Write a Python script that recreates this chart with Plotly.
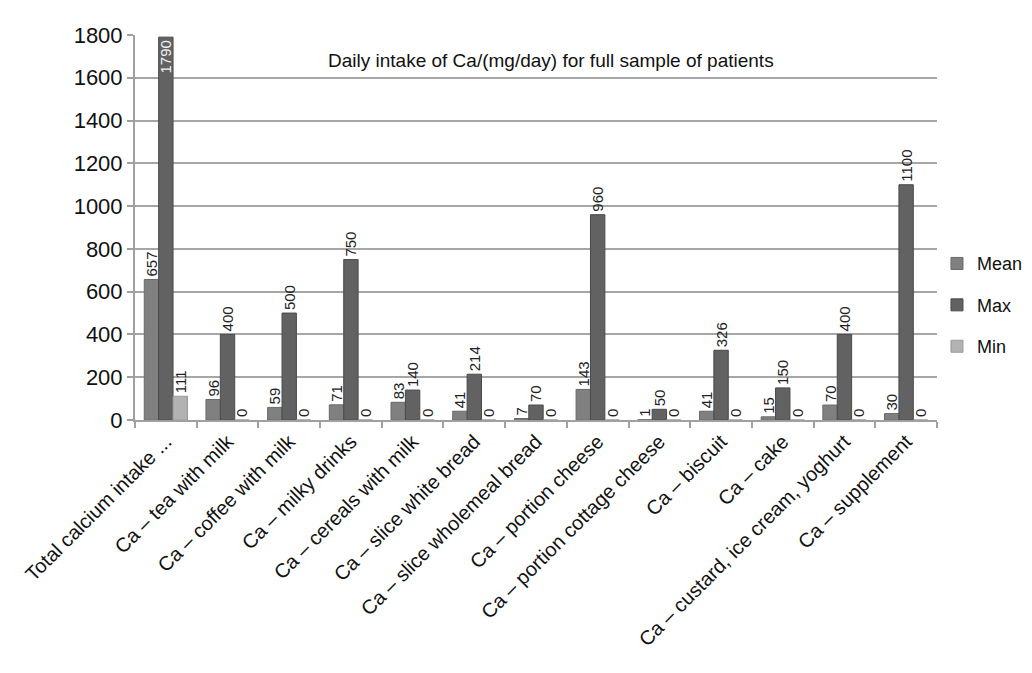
import plotly.graph_objects as go

categories = [
    "Total calcium intake ...",
    "Ca – tea with milk",
    "Ca – coffee with milk",
    "Ca – milky drinks",
    "Ca – cereals with milk",
    "Ca – slice white bread",
    "Ca – slice wholemeal bread",
    "Ca – portion cheese",
    "Ca – portion cottage cheese",
    "Ca – biscuit",
    "Ca – cake",
    "Ca – custard, ice cream, yoghurt",
    "Ca – supplement",
]
mean_vals = [657, 96, 59, 71, 83, 41, 7, 143, 1, 41, 15, 70, 30]
max_vals = [1790, 400, 500, 750, 140, 214, 70, 960, 50, 326, 150, 400, 1100]
min_vals = [111, 0, 0, 0, 0, 0, 0, 0, 0, 0, 0, 0, 0]
y_ticks = [0, 200, 400, 600, 800, 1000, 1200, 1400, 1600, 1800]
title_text = "Daily intake of Ca/(mg/day) for full sample of patients"

font = "Liberation Sans, Arial, sans-serif"
y_max = 1800

fig = go.Figure()
for name, vals, col, edge in [
    ("Mean", mean_vals, "#808080", "#6a6a6a"),
    ("Max", max_vals, "#626262", "#4a4a4a"),
    ("Min", min_vals, "#b2b2b2", "#9a9a9a"),
]:
    # a label that would not fit above the top of the chart goes inside its bar
    positions = ["inside" if v > 0.97 * y_max else "outside" for v in vals]
    fig.add_trace(go.Bar(
        name=name, x=categories, y=vals, legendgroup=name,
        marker=dict(color=col, line=dict(color=edge, width=1)),
        text=[str(v) for v in vals], textposition=positions,
        textangle=-90, constraintext="none", insidetextanchor="end",
        textfont=dict(size=15, color="#222222", family=font),
        insidetextfont=dict(size=15, color="#f2f2f2", family=font),
        outsidetextfont=dict(size=15, color="#222222", family=font),
        cliponaxis=False,
    ))

fig.add_annotation(
    text=title_text, xref="paper", yref="paper", x=0.519, y=0.966,
    showarrow=False, font=dict(size=19, color="#111111", family=font),
)

fig.update_layout(
    width=1024, height=665,
    margin=dict(l=127, r=95, t=27, b=253),
    paper_bgcolor="white", plot_bgcolor="white",
    barmode="group", bargap=0.3, bargroupgap=0.0,
    font=dict(family=font, color="#111111"),
    legend=dict(xref="container", yref="container", x=0.9072, y=0.553,
                yanchor="middle", xanchor="left",
                font=dict(size=18, family=font), itemwidth=30,
                tracegroupgap=15, bgcolor="rgba(0,0,0,0)"),
)
fig.update_yaxes(
    range=[0, y_max], tickvals=y_ticks, showgrid=True, gridcolor="#a6a6a6",
    gridwidth=2, showline=True, linecolor="#a0a0a0", linewidth=2,
    ticks="outside", tickcolor="#a0a0a0", ticklen=6, tickwidth=2,
    tickfont=dict(size=22, family=font, color="#111111"), zeroline=False,
    automargin=False,
)
fig.update_xaxes(
    tickangle=-45, showline=True, linecolor="#a0a0a0", linewidth=2,
    ticks="outside", tickson="boundaries", tickcolor="#a0a0a0", ticklen=6,
    tickwidth=2, tickfont=dict(size=20, family=font, color="#111111"),
    automargin=False,
)

fig.write_html("out.html")
